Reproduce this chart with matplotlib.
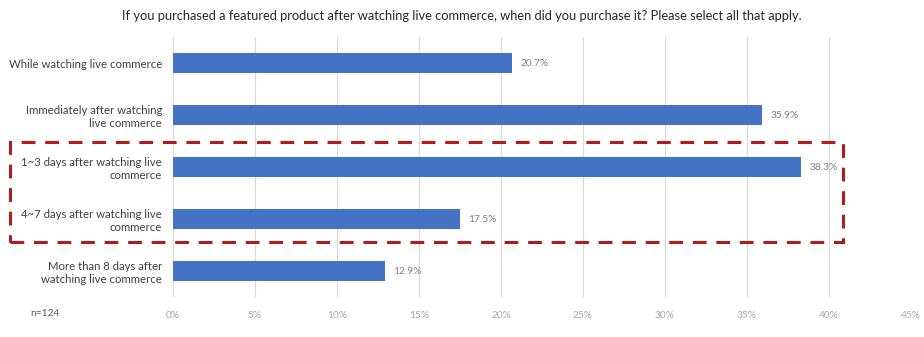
import matplotlib.pyplot as plt
import matplotlib.patches as mpatches
from matplotlib.ticker import FuncFormatter

plt.rcParams['font.family'] = ['Lato', 'DejaVu Sans']

# Data
categories = [
    "While watching live commerce",
    "Immediately after watching\nlive commerce",
    "1~3 days after watching live\ncommerce",
    "4~7 days after watching live\ncommerce",
    "More than 8 days after\nwatching live commerce",
]
values = [20.7, 35.9, 38.3, 17.5, 12.9]
ticks = [0, 5, 10, 15, 20, 25, 30, 35, 40, 45]
title = ("If you purchased a featured product after watching live commerce, "
         "when did you purchase it? Please select all that apply.")
sample_note = "n=124"

W, H = 924, 337
fig = plt.figure(figsize=(W / 100, H / 100), dpi=100)
ax = fig.add_axes([173 / W, 1 - 297 / H, (911 - 173) / W, (297 - 37) / H])

ypos = list(range(len(categories)))
ax.barh(ypos, values, height=0.37, color="#4472C4", zorder=3)
ax.set_ylim(len(categories) - 0.5, -0.5)
ax.set_xlim(0, 45)

for y, v in zip(ypos, values):
    ax.annotate(f"{v:.1f}%", (v, y), xytext=(6, 0), textcoords="offset points",
                va="center", ha="left", fontsize=7.3, color="#7f7f7f")

ax.set_xticks(ticks)
ax.xaxis.set_major_formatter(FuncFormatter(lambda x, _: f"{x:.0f}%"))
ax.tick_params(axis="x", length=0, labelsize=7.3, labelcolor="#a6a6a6", pad=10)
ax.set_yticks(ypos)
ax.set_yticklabels(categories, fontsize=8.2, color="#404040", ha="right")
ax.tick_params(axis="y", length=0, pad=8)
for lab in ax.get_yticklabels():
    lab.set_multialignment("right")
ax.grid(axis="x", color="#d9d9d9", linewidth=0.8, zorder=0)
for s in ax.spines.values():
    s.set_visible(False)

fig.text(0.5, 1 - 16 / H, title, ha="center", va="center", fontsize=9.3, color="#262626")
fig.text(30 / W, 1 - 313 / H, sample_note, ha="left", va="center", fontsize=7.3, color="#595959")

# Highlight box around 1~7 days rows
box = mpatches.Rectangle((10 / W, 1 - 242 / H), (843 - 10) / W, (242 - 142) / H,
                         transform=fig.transFigure, fill=False, edgecolor="#B01C1C",
                         linewidth=2.2, linestyle=(0, (4.5, 3.2)), zorder=10)
fig.patches.append(box)

fig.savefig("out.png", dpi=100)
